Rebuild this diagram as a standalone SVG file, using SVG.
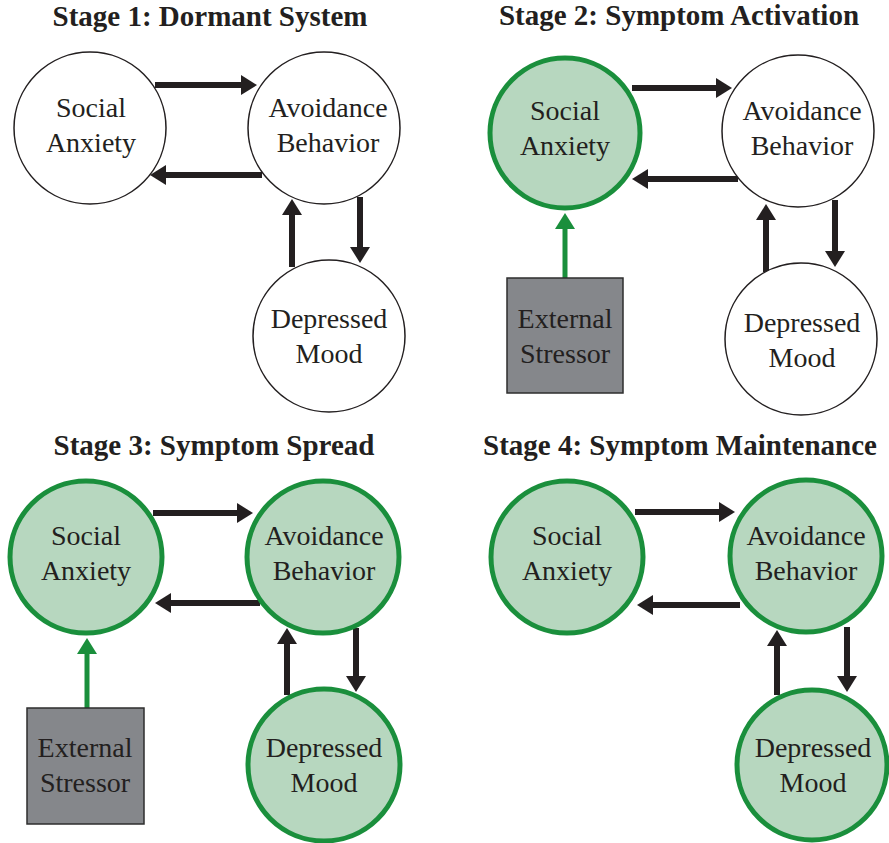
<svg xmlns="http://www.w3.org/2000/svg" width="889" height="843" viewBox="0 0 889 843">
<style>
.title{font-family:"Liberation Serif","DejaVu Serif",serif;font-weight:bold;font-size:29px;fill:#231f20;text-anchor:middle}
.lbl{font-family:"Liberation Serif","DejaVu Serif",serif;font-weight:normal;font-style:normal;font-size:28px;fill:#231f20;text-anchor:middle}
.plain{fill:#ffffff;stroke:#231f20;stroke-width:1.5}
.act{fill:#b7d7bf;stroke:#1a8f3c;stroke-width:5}
.box{fill:#85878b;stroke:#2e2e2e;stroke-width:1.5}
.arr{fill:none;stroke:#231f20;stroke-width:6;marker-end:url(#ah)}
.garr{fill:none;stroke:#1a8f3c;stroke-width:5;marker-end:url(#gh)}
</style>
<defs>
<marker id="ah" markerUnits="userSpaceOnUse" markerWidth="16" markerHeight="20" viewBox="0 0 16 20" refX="4" refY="10" orient="auto"><path d="M0,0 L16,10 L0,20 z" fill="#231f20"/></marker>
<marker id="gh" markerUnits="userSpaceOnUse" markerWidth="16" markerHeight="20" viewBox="0 0 16 20" refX="4" refY="10" orient="auto"><path d="M0,0 L16,10 L0,20 z" fill="#1a8f3c"/></marker>
</defs>
<rect width="889" height="843" fill="#ffffff"/>

<text class="title" x="210" y="26">Stage 1: Dormant System</text>
<text class="title" x="679" y="25">Stage 2: Symptom Activation</text>
<text class="title" x="214" y="455">Stage 3: Symptom Spread</text>
<text class="title" x="680" y="455">Stage 4: Symptom Maintenance</text>

<g id="connectors">
<!-- stage 1 -->
<path class="arr" d="M155,85 H245"/>
<path class="arr" d="M262,175 H162"/>
<path class="arr" d="M360,197 V251"/>
<path class="arr" d="M292,267 V211"/>
<!-- stage 2 -->
<path class="garr" d="M565,278 V225"/>
<path class="arr" d="M632,88 H720"/>
<path class="arr" d="M738,179 H644"/>
<path class="arr" d="M835,200 V255"/>
<path class="arr" d="M766,272 V216"/>
<!-- stage 3 -->
<path class="garr" d="M87,708 V650"/>
<path class="arr" d="M153,513 H241"/>
<path class="arr" d="M260,603 H167"/>
<path class="arr" d="M356,628 V680"/>
<path class="arr" d="M287,695 V640"/>
<!-- stage 4 -->
<path class="arr" d="M635,512 H723"/>
<path class="arr" d="M740,605 H649"/>
<path class="arr" d="M847,627 V680"/>
<path class="arr" d="M777,695 V642"/>
</g>

<g id="s1-social-anxiety"><circle class="plain" cx="90" cy="128" r="76"/><text class="lbl" x="91" y="117">Social</text><text class="lbl" x="91" y="152">Anxiety</text></g>
<g id="s1-avoidance-behavior"><circle class="plain" cx="324" cy="128" r="76"/><text class="lbl" x="328" y="117">Avoidance</text><text class="lbl" x="328" y="152">Behavior</text></g>
<g id="s1-depressed-mood"><circle class="plain" cx="329" cy="336" r="76"/><text class="lbl" x="329" y="328">Depressed</text><text class="lbl" x="329" y="363">Mood</text></g>

<g id="s2-social-anxiety"><circle class="act" cx="565" cy="133" r="75"/><text class="lbl" x="565" y="120">Social</text><text class="lbl" x="565" y="155">Anxiety</text></g>
<g id="s2-avoidance-behavior"><circle class="plain" cx="798" cy="131" r="76"/><text class="lbl" x="802" y="120">Avoidance</text><text class="lbl" x="802" y="155">Behavior</text></g>
<g id="s2-depressed-mood"><circle class="plain" cx="801" cy="339" r="76"/><text class="lbl" x="802" y="332">Depressed</text><text class="lbl" x="802" y="367">Mood</text></g>
<g id="s2-external-stressor"><rect class="box" x="507" y="278" width="116" height="115"/><text class="lbl" x="565" y="328">External</text><text class="lbl" x="565" y="363">Stressor</text></g>

<g id="s3-social-anxiety"><circle class="act" cx="86" cy="557" r="76"/><text class="lbl" x="86" y="545">Social</text><text class="lbl" x="86" y="580">Anxiety</text></g>
<g id="s3-avoidance-behavior"><circle class="act" cx="323" cy="557" r="76"/><text class="lbl" x="324" y="545">Avoidance</text><text class="lbl" x="324" y="580">Behavior</text></g>
<g id="s3-depressed-mood"><circle class="act" cx="324" cy="765" r="76"/><text class="lbl" x="324" y="757">Depressed</text><text class="lbl" x="324" y="792">Mood</text></g>
<g id="s3-external-stressor"><rect class="box" x="27" y="708" width="117" height="116"/><text class="lbl" x="85" y="757">External</text><text class="lbl" x="85" y="792">Stressor</text></g>

<g id="s4-social-anxiety"><circle class="act" cx="567" cy="557" r="76"/><text class="lbl" x="567" y="545">Social</text><text class="lbl" x="567" y="580">Anxiety</text></g>
<g id="s4-avoidance-behavior"><circle class="act" cx="806" cy="556" r="76"/><text class="lbl" x="806" y="545">Avoidance</text><text class="lbl" x="806" y="580">Behavior</text></g>
<g id="s4-depressed-mood"><circle class="act" cx="812" cy="765" r="75"/><text class="lbl" x="813" y="757">Depressed</text><text class="lbl" x="813" y="792">Mood</text></g>
</svg>
